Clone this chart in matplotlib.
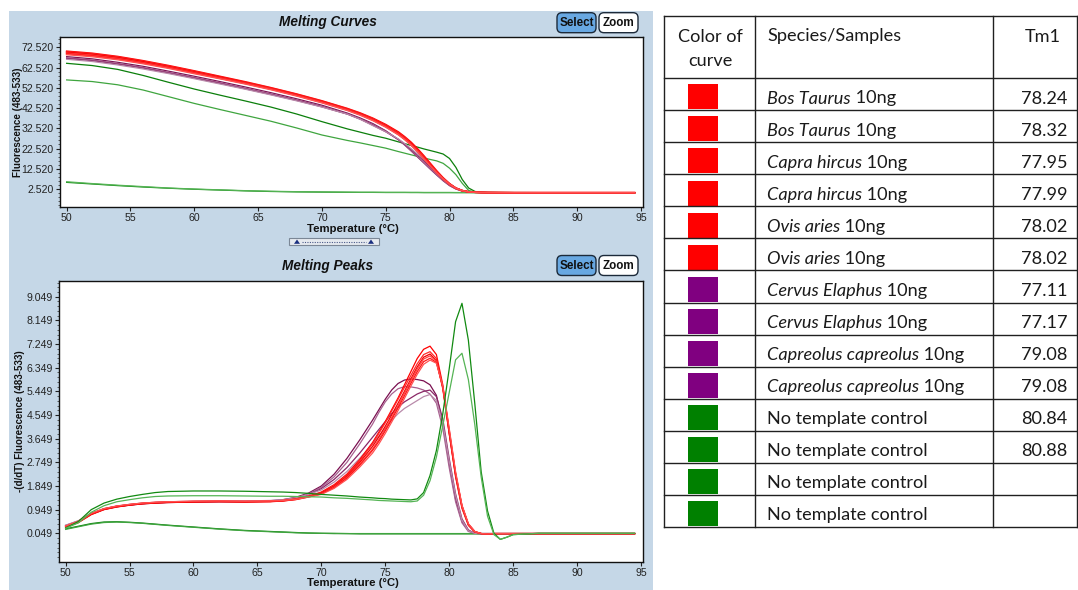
import matplotlib
matplotlib.use('Agg')
import matplotlib.pyplot as plt
from matplotlib.patches import Rectangle, FancyBboxPatch, Polygon
from matplotlib.ticker import FixedLocator, MultipleLocator

plt.rcParams['font.family'] = ['Liberation Sans', 'DejaVu Sans']

# ---------------- data: melting curves (top) ----------------
temp_melt = [50, 52, 54, 56, 58, 60, 62, 64, 66, 68, 70, 72, 73, 74, 75, 76, 76.5, 77, 77.5,
             78, 78.5, 79, 79.5, 80, 80.5, 81, 81.5, 82, 82.5, 83, 85, 90, 94.5]

melt_red_1 = [70.6, 69.6, 68.0, 65.9, 63.5, 60.9, 58.2, 55.5, 52.6, 49.5, 46.1, 42.3, 40.1, 37.5, 34.4, 30.7,
              28.3, 25.6, 22.4, 18.9, 15.2, 11.5, 8.1, 5.2, 3.0, 1.8, 1.15, 0.9, 0.8, 0.75, 0.7, 0.7, 0.7]
melt_red_2 = [70.3, 69.3, 67.7, 65.6, 63.2, 60.6, 57.9, 55.2, 52.4, 49.3, 45.9, 42.1, 39.8, 37.2, 34.0, 30.2,
              27.8, 25.0, 21.8, 18.3, 14.7, 11.1, 7.8, 5.0, 2.9, 1.7, 1.1, 0.9, 0.8, 0.75, 0.7, 0.7, 0.7]
melt_red_3 = [70.0, 69.0, 67.4, 65.3, 62.9, 60.3, 57.7, 55.0, 52.2, 49.1, 45.7, 41.9, 39.6, 36.9, 33.7, 29.8,
              27.4, 24.6, 21.4, 17.9, 14.3, 10.8, 7.6, 4.9, 2.9, 1.7, 1.1, 0.9, 0.8, 0.75, 0.7, 0.7, 0.7]
melt_red_4 = [69.6, 68.6, 67.0, 64.9, 62.6, 60.0, 57.4, 54.8, 52.0, 48.9, 45.5, 41.7, 39.4, 36.7, 33.5, 29.6,
              27.2, 24.4, 21.2, 17.7, 14.1, 10.7, 7.6, 4.9, 2.9, 1.7, 1.1, 0.9, 0.8, 0.75, 0.7, 0.7, 0.7]
melt_red_5 = [69.3, 68.3, 66.7, 64.7, 62.4, 59.8, 57.2, 54.6, 51.8, 48.7, 45.3, 41.5, 39.2, 36.5, 33.3, 29.4,
              27.0, 24.2, 21.0, 17.5, 14.0, 10.6, 7.5, 4.9, 2.9, 1.7, 1.1, 0.9, 0.8, 0.75, 0.7, 0.7, 0.7]
melt_red_6 = [68.9, 67.9, 66.4, 64.4, 62.1, 59.5, 57.0, 54.4, 51.6, 48.5, 45.1, 41.3, 39.0, 36.3, 33.1, 29.3,
              26.9, 24.1, 20.9, 17.4, 13.9, 10.5, 7.5, 4.9, 2.9, 1.7, 1.1, 0.9, 0.8, 0.75, 0.7, 0.7, 0.7]

melt_purple_1 = [67.9, 66.8, 65.1, 63.1, 60.7, 58.2, 55.6, 52.9, 50.1, 47.1, 43.9, 40.0, 37.6, 34.8, 31.3, 26.9,
                 24.2, 21.3, 18.3, 15.3, 12.3, 9.4, 6.6, 4.2, 2.5, 1.5, 1.05, 0.85, 0.8, 0.75, 0.7, 0.7, 0.7]
melt_purple_2 = [67.4, 66.3, 64.6, 62.6, 60.2, 57.7, 55.1, 52.4, 49.6, 46.6, 43.4, 39.6, 37.2, 34.4, 31.0, 26.8,
                 24.2, 21.4, 18.5, 15.5, 12.5, 9.6, 6.8, 4.3, 2.6, 1.5, 1.05, 0.85, 0.8, 0.75, 0.7, 0.7, 0.7]
melt_purple_3 = [67.0, 65.9, 64.2, 62.2, 59.8, 57.3, 54.7, 52.0, 49.2, 46.3, 43.1, 39.5, 37.0, 34.0, 30.8, 27.0,
                 24.6, 22.0, 19.3, 16.4, 13.4, 10.4, 7.6, 4.9, 2.9, 1.7, 1.1, 0.9, 0.8, 0.75, 0.7, 0.7, 0.7]
melt_purple_4 = [66.6, 65.5, 63.8, 61.8, 59.5, 57.0, 54.4, 51.8, 49.0, 46.1, 43.0, 39.5, 37.0, 33.8, 30.8, 27.2,
                 24.9, 22.4, 19.8, 17.0, 14.0, 11.0, 8.0, 5.2, 3.1, 1.8, 1.15, 0.9, 0.8, 0.75, 0.7, 0.7, 0.7]

melt_green_1 = [64.6, 63.5, 61.6, 58.6, 55.2, 51.9, 48.9, 46.0, 43.0, 39.6, 35.8, 32.2, 30.6, 29.0, 27.6, 25.8,
                24.9, 24.0, 23.2, 22.3, 21.5, 20.7, 19.8, 17.6, 13.2, 7.2, 3.0, 1.3, 0.9, 0.8, 0.75, 0.7, 0.7]
melt_green_2 = [56.4, 55.6, 54.0, 51.4, 48.1, 44.8, 41.8, 38.9, 36.0, 32.7, 29.2, 26.5, 25.3, 24.0, 22.7, 21.0,
                20.2, 19.4, 18.6, 17.8, 17.1, 16.4, 15.2, 12.8, 9.6, 5.3, 1.8, 1.0, 0.85, 0.8, 0.75, 0.7, 0.7]
melt_green_3 = [5.8, 5.0, 4.2, 3.5, 2.9, 2.4, 2.0, 1.6, 1.3, 1.1, 1.0, 0.9, 0.85, 0.85, 0.8, 0.8,
                0.8, 0.8, 0.8, 0.75, 0.75, 0.75, 0.75, 0.75, 0.75, 0.75, 0.75, 0.7, 0.7, 0.7, 0.7, 0.7, 0.7]
melt_green_4 = [6.1, 5.2, 4.4, 3.7, 3.0, 2.5, 2.1, 1.7, 1.4, 1.2, 1.05, 0.95, 0.9, 0.9, 0.85, 0.85,
                0.85, 0.8, 0.8, 0.8, 0.8, 0.8, 0.8, 0.8, 0.75, 0.75, 0.75, 0.75, 0.75, 0.75, 0.7, 0.7, 0.7]

# ---------------- data: melting peaks (bottom) ----------------
temp_peak = [50, 51, 52, 53, 54, 55, 56, 57, 58, 60, 62, 64, 66, 67, 68, 69, 70, 71, 72, 73, 74,
             74.5, 75, 75.5, 76, 76.5, 77, 77.5, 78, 78.5, 79, 79.5, 80, 80.5, 81, 81.5, 82, 82.5,
             83, 83.5, 84, 84.5, 85, 87, 90, 94.5]

peak_red_1 = [0.30, 0.48, 0.78, 0.97, 1.07, 1.13, 1.18, 1.21, 1.23, 1.25, 1.26, 1.25, 1.26, 1.29, 1.35, 1.46,
              1.62, 1.90, 2.30, 2.85, 3.50, 3.90, 4.30, 4.75, 5.20, 5.70, 6.20, 6.70, 7.05, 7.17, 6.85, 5.70,
              3.90, 2.30, 1.10, 0.40, 0.12, 0.04, 0.03, 0.04, 0.04, 0.04, 0.04, 0.04, 0.04, 0.04]
peak_red_2 = [0.32, 0.50, 0.80, 0.98, 1.08, 1.14, 1.19, 1.22, 1.24, 1.26, 1.27, 1.26, 1.27, 1.30, 1.36, 1.47,
              1.60, 1.87, 2.26, 2.80, 3.45, 3.85, 4.25, 4.70, 5.15, 5.60, 6.05, 6.50, 6.85, 6.96, 6.70, 5.60,
              3.85, 2.25, 1.05, 0.38, 0.10, 0.04, 0.03, 0.04, 0.04, 0.04, 0.04, 0.04, 0.04, 0.04]
peak_red_3 = [0.28, 0.46, 0.76, 0.95, 1.05, 1.12, 1.17, 1.20, 1.22, 1.24, 1.25, 1.24, 1.25, 1.28, 1.34, 1.45,
              1.58, 1.84, 2.22, 2.74, 3.35, 3.72, 4.12, 4.55, 5.00, 5.45, 5.92, 6.38, 6.75, 6.87, 6.62, 5.55,
              3.85, 2.20, 1.00, 0.35, 0.10, 0.04, 0.03, 0.04, 0.04, 0.04, 0.04, 0.04, 0.04, 0.04]
peak_red_4 = [0.31, 0.49, 0.79, 0.98, 1.08, 1.15, 1.20, 1.23, 1.25, 1.27, 1.28, 1.27, 1.28, 1.30, 1.35, 1.45,
              1.56, 1.81, 2.18, 2.68, 3.25, 3.62, 4.02, 4.45, 4.90, 5.38, 5.85, 6.30, 6.68, 6.80, 6.60, 5.60,
              3.95, 2.30, 1.05, 0.38, 0.10, 0.04, 0.03, 0.04, 0.04, 0.04, 0.04, 0.04, 0.04, 0.04]
peak_red_5 = [0.29, 0.47, 0.77, 0.96, 1.06, 1.13, 1.18, 1.21, 1.23, 1.25, 1.26, 1.25, 1.26, 1.28, 1.33, 1.43,
              1.55, 1.79, 2.15, 2.64, 3.20, 3.55, 3.95, 4.38, 4.82, 5.28, 5.75, 6.20, 6.58, 6.71, 6.55, 5.62,
              4.00, 2.35, 1.10, 0.40, 0.12, 0.04, 0.03, 0.04, 0.04, 0.04, 0.04, 0.04, 0.04, 0.04]
peak_red_6 = [0.33, 0.51, 0.81, 0.99, 1.09, 1.15, 1.20, 1.23, 1.25, 1.27, 1.28, 1.27, 1.28, 1.30, 1.34, 1.43,
              1.53, 1.76, 2.10, 2.57, 3.10, 3.45, 3.85, 4.28, 4.72, 5.18, 5.65, 6.10, 6.48, 6.64, 6.52, 5.65,
              4.05, 2.40, 1.12, 0.42, 0.12, 0.04, 0.03, 0.04, 0.04, 0.04, 0.04, 0.04, 0.04, 0.04]

peak_purple_1 = [0.35, 0.52, 0.80, 0.98, 1.08, 1.14, 1.19, 1.22, 1.24, 1.26, 1.27, 1.27, 1.29, 1.33, 1.42, 1.58,
                 1.85, 2.30, 2.90, 3.60, 4.35, 4.75, 5.15, 5.50, 5.75, 5.88, 5.92, 5.90, 5.85, 5.70, 5.30, 4.25,
                 2.70, 1.35, 0.50, 0.14, 0.05, 0.04, 0.04, 0.04, 0.04, 0.04, 0.04, 0.04, 0.04, 0.04]
peak_purple_2 = [0.34, 0.51, 0.79, 0.97, 1.07, 1.13, 1.18, 1.21, 1.23, 1.25, 1.26, 1.26, 1.28, 1.32, 1.40, 1.55,
                 1.80, 2.20, 2.75, 3.45, 4.20, 4.65, 5.05, 5.35, 5.55, 5.63, 5.62, 5.58, 5.50, 5.35, 5.00, 4.05,
                 2.55, 1.25, 0.45, 0.12, 0.05, 0.04, 0.04, 0.04, 0.04, 0.04, 0.04, 0.04, 0.04, 0.04]
peak_purple_3 = [0.33, 0.50, 0.78, 0.96, 1.06, 1.12, 1.17, 1.20, 1.22, 1.24, 1.25, 1.25, 1.27, 1.31, 1.38, 1.52,
                 1.75, 2.10, 2.55, 3.10, 3.70, 4.00, 4.30, 4.60, 4.85, 5.05, 5.20, 5.35, 5.45, 5.50, 5.25, 4.40,
                 2.90, 1.55, 0.60, 0.18, 0.05, 0.04, 0.04, 0.04, 0.04, 0.04, 0.04, 0.04, 0.04, 0.04]
peak_purple_4 = [0.36, 0.53, 0.81, 0.99, 1.09, 1.15, 1.20, 1.23, 1.25, 1.27, 1.28, 1.28, 1.30, 1.33, 1.40, 1.53,
                 1.70, 2.00, 2.40, 2.90, 3.45, 3.75, 4.05, 4.35, 4.60, 4.80, 4.95, 5.10, 5.25, 5.33, 5.10, 4.25,
                 2.80, 1.50, 0.55, 0.15, 0.05, 0.04, 0.04, 0.04, 0.04, 0.04, 0.04, 0.04, 0.04, 0.04]

peak_green_1 = [0.25, 0.50, 0.95, 1.20, 1.35, 1.45, 1.53, 1.60, 1.64, 1.66, 1.66, 1.65, 1.63, 1.62, 1.60, 1.57,
                1.53, 1.50, 1.47, 1.43, 1.40, 1.38, 1.37, 1.35, 1.34, 1.33, 1.32, 1.36, 1.60, 2.25, 3.20, 4.60,
                6.30, 8.10, 8.80, 7.40, 5.00, 2.40, 0.90, 0.05, -0.18, -0.10, 0.00, 0.05, 0.05, 0.05]
peak_green_2 = [0.24, 0.45, 0.85, 1.10, 1.25, 1.33, 1.40, 1.45, 1.47, 1.48, 1.48, 1.47, 1.46, 1.46, 1.45, 1.44,
                1.43, 1.40, 1.38, 1.35, 1.32, 1.30, 1.29, 1.28, 1.27, 1.26, 1.25, 1.28, 1.50, 2.05, 2.95, 4.15,
                5.40, 6.65, 6.90, 5.90, 4.20, 2.20, 0.70, 0.00, -0.18, -0.10, 0.00, 0.05, 0.05, 0.05]
peak_green_3 = [0.22, 0.32, 0.42, 0.48, 0.49, 0.47, 0.44, 0.40, 0.36, 0.29, 0.22, 0.16, 0.12, 0.10, 0.08, 0.06,
                0.05, 0.04, 0.04, 0.03, 0.03, 0.03, 0.03, 0.03, 0.03, 0.03, 0.03, 0.03, 0.03, 0.03, 0.03, 0.03,
                0.03, 0.03, 0.03, 0.03, 0.03, 0.03, 0.03, 0.03, 0.03, 0.03, 0.03, 0.03, 0.03, 0.03]
peak_green_4 = [0.20, 0.30, 0.40, 0.46, 0.48, 0.46, 0.43, 0.39, 0.35, 0.28, 0.21, 0.15, 0.11, 0.09, 0.07, 0.06,
                0.05, 0.05, 0.04, 0.04, 0.04, 0.04, 0.04, 0.04, 0.04, 0.04, 0.04, 0.04, 0.04, 0.04, 0.04, 0.04,
                0.04, 0.04, 0.04, 0.04, 0.04, 0.04, 0.04, 0.04, 0.04, 0.04, 0.04, 0.04, 0.04, 0.04]

# ---------------- axis ticks ----------------
x_ticks = [50, 55, 60, 65, 70, 75, 80, 85, 90, 95]
melt_yticks = [2.52, 12.52, 22.52, 32.52, 42.52, 52.52, 62.52, 72.52]
peak_yticks = [0.049, 0.949, 1.849, 2.749, 3.649, 4.549, 5.449, 6.349, 7.249, 8.149, 9.049]

# ---------------- table data ----------------
species_names = ['Bos Taurus', 'Bos Taurus', 'Capra hircus', 'Capra hircus', 'Ovis aries', 'Ovis aries',
                 'Cervus Elaphus', 'Cervus Elaphus', 'Capreolus capreolus', 'Capreolus capreolus',
                 'No template control', 'No template control', 'No template control', 'No template control']
species_italic = [True] * 10 + [False] * 4
tm1_values = ['78.24', '78.32', '77.95', '77.99', '78.02', '78.02', '77.11', '77.17', '79.08', '79.08',
              '80.84', '80.88', '', '']
row_colors = ['#ff0000'] * 6 + ['#800080'] * 4 + ['#008000'] * 4

# ---------------- styling ----------------
red_styles = ['#ff0000', '#ff2a2a', '#f20000', '#ff4040', '#ff1414', '#ff5050']
purple_styles = ['#7a0f50', '#a8608f', '#8a2766', '#b98aaa']
green_styles = ['#118a11', '#55b455', '#0b7f0b', '#3fa53f']

W, H = 1078, 590
fig = plt.figure(figsize=(W / 100, H / 100), dpi=100)
fig.patch.set_facecolor('white')

ov = fig.add_axes([0, 0, 1, 1], zorder=0)
ov.set_xlim(0, W)
ov.set_ylim(H, 0)
ov.axis('off')

# panel background
ov.add_patch(Rectangle((9, 11), 644, 579, facecolor='#c5d7e7', edgecolor='none'))


def px_axes(x0, y0, x1, y1):
    return fig.add_axes([x0 / W, 1 - y1 / H, (x1 - x0) / W, (y1 - y0) / H], zorder=2)


def style_axes(ax, yticks, ylim, fmt):
    ax.set_facecolor('white')
    ax.set_xlim(49.48, 95.16)
    ax.set_ylim(*ylim)
    ax.xaxis.set_major_locator(FixedLocator(x_ticks))
    ax.xaxis.set_minor_locator(MultipleLocator(1))
    ax.set_xticklabels([str(t) for t in x_ticks])
    ax.yaxis.set_major_locator(FixedLocator(yticks))
    step = (yticks[1] - yticks[0]) / 5
    minors = []
    v = yticks[0] - 5 * step
    while v < ylim[1]:
        minors.append(v)
        v += step
    ax.yaxis.set_minor_locator(FixedLocator(minors))
    ax.set_yticklabels([fmt % t for t in yticks])
    ax.tick_params(which='major', direction='out', length=3, width=0.8, pad=1.5,
                   labelsize=7.6, colors='#222222')
    ax.tick_params(which='minor', direction='out', length=1.5, width=0.6, colors='#444444')
    ax.tick_params(axis='x', which='minor', length=0)
    for s in ax.spines.values():
        s.set_color('#111111')
        s.set_linewidth(1.0)


# top: melting curves
ax1 = px_axes(60, 37, 643, 207)
style_axes(ax1, melt_yticks, (-6.37, 77.6), '%.3f')
for ys, c in zip([melt_green_3, melt_green_4, melt_green_1, melt_green_2], green_styles):
    ax1.plot(temp_melt, ys, color=c, lw=0.9)
for ys, c in zip([melt_purple_1, melt_purple_2, melt_purple_3, melt_purple_4], purple_styles):
    ax1.plot(temp_melt, ys, color=c, lw=0.9)
for ys, c in zip([melt_red_1, melt_red_2, melt_red_3, melt_red_4, melt_red_5, melt_red_6], red_styles):
    ax1.plot(temp_melt, ys, color=c, lw=1.1)

# bottom: melting peaks
ax2 = px_axes(59, 280.7, 643, 561.7)
style_axes(ax2, peak_yticks, (-1.03, 9.66), '%.3f')
for ys, c in zip([peak_green_3, peak_green_4], green_styles[2:]):
    ax2.plot(temp_peak, ys, color=c, lw=0.9)
for ys, c in zip([peak_purple_1, peak_purple_2, peak_purple_3, peak_purple_4], purple_styles):
    ax2.plot(temp_peak, ys, color=c, lw=0.9)
for ys, c in zip([peak_red_1, peak_red_2, peak_red_3, peak_red_4, peak_red_5, peak_red_6], red_styles):
    ax2.plot(temp_peak, ys, color=c, lw=0.9)
for ys, c in zip([peak_green_1, peak_green_2], green_styles[:2]):
    ax2.plot(temp_peak, ys, color=c, lw=0.9)

# titles, labels
for ty, title in [(22, 'Melting Curves'), (266, 'Melting Peaks')]:
    ov.text(328, ty, title, ha='center', va='center', fontsize=9.8, fontweight='bold',
            style='italic', color='#111111')
ov.text(353, 229, 'Temperature (°C)', ha='center', va='center', fontsize=8.2, fontweight='bold',
        color='#111111')
ov.text(353, 583, 'Temperature (°C)', ha='center', va='center', fontsize=8.2, fontweight='bold',
        color='#111111')
ov.text(18, 122, 'Fluorescence (483-533)', ha='center', va='center', rotation=90, fontsize=7.1,
        fontweight='bold', color='#111111')
ov.text(20, 421, '-(d/dT) Fluorescence (483-533)', ha='center', va='center', rotation=90, fontsize=7.0,
        fontweight='bold', color='#111111')


def button(x0, y0, w, h, label, fc):
    ov.add_patch(FancyBboxPatch((x0, y0), w, h, boxstyle='round,pad=0,rounding_size=5',
                                facecolor=fc, edgecolor='#1c2a3a', linewidth=1.0))
    ov.text(x0 + w / 2, y0 + h / 2 + 0.5, label, ha='center', va='center', fontsize=8.4,
            fontweight='bold', color='#101010')


for by in [12.7, 255.5]:
    button(557, by, 39, 20, 'Select', '#68a8e2')
    button(599, by, 39, 20, 'Zoom', '#ffffff')

# slider
ov.add_patch(Rectangle((289, 238), 90, 7, facecolor='#e6eaef', edgecolor='#7b8796', linewidth=0.8))
ov.plot([302, 366], [242, 242], linestyle=(0, (1, 1.2)), color='#4a5a8a', lw=0.8)
for tx in [297, 371]:
    ov.add_patch(Polygon([(tx - 3, 243.8), (tx + 3, 243.8), (tx, 239.5)], closed=True,
                         facecolor='#1a2f80', edgecolor='none'))

# ---------------- table ----------------
tx0, tx1, tx2, tx3 = 664, 755, 993, 1077
ty_top, ty_head = 16, 78
row_h = (527 - ty_head) / 14
line_c = '#202020'
ov.plot([tx0, tx3], [ty_top, ty_top], color=line_c, lw=1.0)
ov.plot([tx0, tx3], [ty_head, ty_head], color=line_c, lw=1.0)
for i in range(14):
    yb = ty_head + (i + 1) * row_h
    ov.plot([tx0, tx3], [yb, yb], color=line_c, lw=1.0)
for xv in [tx0, tx1, tx2, tx3]:
    ov.plot([xv, xv], [ty_top, 527], color=line_c, lw=1.0)

tfont = dict(family=['Lato', 'DejaVu Sans'], fontsize=13.1, color='#1a1a1a')
ov.text(710, 41.5, 'Color of', ha='center', va='baseline', **tfont)
ov.text(710, 66.5, 'curve', ha='center', va='baseline', **tfont)
ov.text(767, 41.5, 'Species/Samples', ha='left', va='baseline', **tfont)
ov.text(1043, 41.5, 'Tm1', ha='center', va='baseline', **tfont)

renderer = fig.canvas.get_renderer()
for i in range(14):
    top = ty_head + i * row_h
    ov.add_patch(Rectangle((688, top + 6.3), 30, 25, facecolor=row_colors[i], edgecolor='none'))
    base = top + 25.5
    if species_italic[i]:
        t = ov.text(767, base, species_names[i], ha='left', va='baseline', style='italic', **tfont)
        wpx = t.get_window_extent(renderer=renderer).width
        ov.text(767 + wpx, base, ' 10ng', ha='left', va='baseline', **tfont)
    else:
        ov.text(767, base, species_names[i], ha='left', va='baseline', **tfont)
    if tm1_values[i]:
        ov.text(1044, base, tm1_values[i], ha='center', va='baseline', **tfont)

fig.savefig('out.png', dpi=100)
